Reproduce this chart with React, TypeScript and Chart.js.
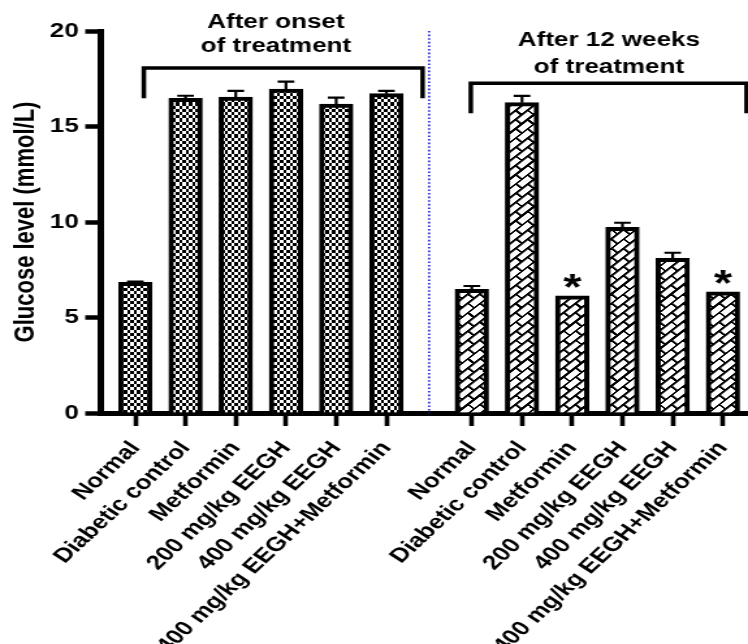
import React, { useEffect, useRef } from "react";
import { Chart, registerables } from "chart.js";

Chart.register(...registerables);

// ---------- data ----------
const categories = [
  "Normal",
  "Diabetic control",
  "Metformin",
  "200 mg/kg EEGH",
  "400 mg/kg EEGH",
  "400 mg/kg EEGH+Metformin",
];
const groupTitles = [
  ["After onset", "of treatment"],
  ["After 12 weeks", "of treatment"],
];
const onsetValues = [6.84, 16.48, 16.54, 16.96, 16.18, 16.72];
const onsetErrors = [0.04, 0.13, 0.33, 0.39, 0.33, 0.14];
const week12Values = [6.48, 16.25, 6.14, 9.72, 8.1, 6.35];
const week12Errors = [0.17, 0.35, 0, 0.24, 0.29, 0];
const week12Significant = [false, false, true, false, false, true];
const yTicks = [0, 5, 10, 15, 20];
const yTitle = "Glucose level (mmol/L)";

// ---------- layout / style config ----------
const CANVAS_W = 575;
const CANVAS_H = 644;
const STRETCH = 748 / CANVAS_W;
const GROUP_GAP = 6.7;
const X_MIN = -0.7;
const X_MAX = 12.2;
const DIVIDER_X = 5.85;
const BRACKETS = [
  { x0: 0.17, x1: 5.72, yTop: 18.06, yLeg: 16.48 },
  { x0: 6.68, x1: 12.17, yTop: 17.26, yLeg: 15.69 },
];
const TITLE_ANCHORS = [
  { x: 2.8, y: [20.47, 19.2] },
  { x: 9.43, y: [19.49, 18.09] },
];
const FONT = "'Liberation Sans', Arial, sans-serif";

const onsetPositions = categories.map((_, i) => i);
const week12Positions = categories.map((_, i) => i + GROUP_GAP);
const allPositions = [...onsetPositions, ...week12Positions];
const allLabels = [...categories, ...categories];

function makeChecker(): CanvasPattern | string {
  const t = document.createElement("canvas");
  t.width = 8;
  t.height = 8;
  const c = t.getContext("2d");
  if (!c) return "#888";
  c.fillStyle = "#fff";
  c.fillRect(0, 0, 8, 8);
  c.fillStyle = "#000";
  c.fillRect(0, 0, 4, 4);
  c.fillRect(4, 4, 4, 4);
  const ctx = document.createElement("canvas").getContext("2d")!;
  const p = ctx.createPattern(t, "repeat")!;
  p.setTransform(new DOMMatrix().scale(2.5 / 4, 3.2 / 4));
  return p;
}

function makeBricks(): CanvasPattern | string {
  const s = 2; // draw at 2x
  const L = 13 * s;
  const H = 6.5 * s;
  const t = document.createElement("canvas");
  t.width = L;
  t.height = 2 * H;
  const c = t.getContext("2d");
  if (!c) return "#888";
  c.fillStyle = "#fff";
  c.fillRect(0, 0, L, 2 * H);
  c.fillStyle = "#000";
  const m = 1.8 * s;
  c.fillRect(0, 0, L, m);
  c.fillRect(0, H, L, m);
  c.fillRect(0, 0, m, H);
  c.fillRect(L / 2, H, m, H);
  const ctx = document.createElement("canvas").getContext("2d")!;
  const p = ctx.createPattern(t, "repeat")!;
  p.setTransform(new DOMMatrix().rotate(-45).scale(1 / s));
  return p;
}

const annotationPlugin = {
  id: "annotations",
  beforeDatasetsDraw(chart: any) {
    chart.ctx.imageSmoothingEnabled = false;
  },
  afterDatasetsDraw(chart: any) {
    const ctx: CanvasRenderingContext2D = chart.ctx;
    ctx.imageSmoothingEnabled = true;
    const xs = chart.scales.x;
    const ys = chart.scales.y;
    ctx.save();

    // divider
    ctx.strokeStyle = "#2f2fd0";
    ctx.lineWidth = 1.7;
    ctx.setLineDash([1.6, 2.0]);
    ctx.beginPath();
    const dx = xs.getPixelForValue(DIVIDER_X);
    ctx.moveTo(dx, ys.getPixelForValue(20));
    ctx.lineTo(dx, ys.getPixelForValue(0));
    ctx.stroke();
    ctx.setLineDash([]);

    // error bars
    ctx.strokeStyle = "#000";
    ctx.lineWidth = 2.2;
    const drawErr = (pos: number[], vals: number[], errs: number[]) => {
      pos.forEach((p, i) => {
        if (!errs[i]) return;
        const x = xs.getPixelForValue(p);
        const y0 = ys.getPixelForValue(vals[i]);
        const y1 = ys.getPixelForValue(vals[i] + errs[i]);
        ctx.beginPath();
        ctx.moveTo(x, y0);
        ctx.lineTo(x, y1);
        ctx.moveTo(x - 6.4, y1);
        ctx.lineTo(x + 6.4, y1);
        ctx.stroke();
      });
    };
    drawErr(onsetPositions, onsetValues, onsetErrors);
    drawErr(week12Positions, week12Values, week12Errors);

    // asterisks
    ctx.fillStyle = "#000";
    ctx.font = `bold 36px ${FONT}`;
    ctx.textAlign = "center";
    ctx.textBaseline = "alphabetic";
    week12Positions.forEach((p, i) => {
      if (!week12Significant[i]) return;
      const x = xs.getPixelForValue(p);
      const y = ys.getPixelForValue(week12Values[i]);
      ctx.fillText("*", x, y + 4);
    });

    // brackets
    ctx.lineWidth = 3.5;
    ctx.lineJoin = "miter";
    ctx.lineCap = "butt";
    BRACKETS.forEach((b) => {
      const x0 = xs.getPixelForValue(b.x0);
      const x1 = xs.getPixelForValue(b.x1);
      const yt = ys.getPixelForValue(b.yTop);
      const yl = ys.getPixelForValue(b.yLeg);
      ctx.beginPath();
      ctx.moveTo(x0, yl);
      ctx.lineTo(x0, yt);
      ctx.lineTo(x1, yt);
      ctx.lineTo(x1, yl);
      ctx.stroke();
    });

    // group titles
    ctx.font = `bold 20px ${FONT}`;
    ctx.textBaseline = "middle";
    TITLE_ANCHORS.forEach((a, g) => {
      const x = xs.getPixelForValue(a.x);
      groupTitles[g].forEach((line, k) => {
        ctx.fillText(line, x, ys.getPixelForValue(a.y[k]));
      });
    });

    ctx.restore();
  },
};

export default function App() {
  const ref = useRef<HTMLCanvasElement>(null);

  useEffect(() => {
    document.body.style.margin = "0";
    if (!ref.current) return;
    const checker = makeChecker();
    const bricks = makeBricks();
    const chart = new Chart(ref.current, {
      type: "bar",
      data: {
        datasets: [
          {
            label: "After onset of treatment",
            data: onsetPositions.map((x, i) => ({ x, y: onsetValues[i] })),
            backgroundColor: checker as any,
            borderColor: "#000",
            borderWidth: 4,
            barThickness: 25.7,
            grouped: false,
          } as any,
          {
            label: "After 12 weeks of treatment",
            data: week12Positions.map((x, i) => ({ x, y: week12Values[i] })),
            backgroundColor: bricks as any,
            borderColor: "#000",
            borderWidth: 4,
            barThickness: 25.7,
            grouped: false,
          } as any,
        ],
      },
      options: {
        animation: false,
        responsive: false,
        devicePixelRatio: 1,
        layout: { padding: { top: 31, right: 0, bottom: 0, left: 0 } },
        plugins: {
          legend: { display: false },
          tooltip: { enabled: false },
          title: { display: false },
        },
        scales: {
          x: {
            type: "linear",
            min: X_MIN,
            max: X_MAX,
            offset: false,
            afterBuildTicks: (scale: any) => {
              scale.ticks = allPositions.map((v) => ({ value: v }));
            },
            afterFit: (scale: any) => {
              scale.height = CANVAS_H - 413;
              scale.paddingLeft = 0;
              scale.paddingRight = 0;
            },
            ticks: {
              autoSkip: false,
              minRotation: 50,
              maxRotation: 50,
              padding: 11,
              color: "#000",
              font: { family: FONT, size: 20, weight: "bold" },
              callback: (_v: any, i: number) => allLabels[i],
            },
            grid: {
              offset: false,
              drawOnChartArea: false,
              drawTicks: true,
              tickLength: 13,
              tickWidth: 3.6,
              tickColor: "#000",
            },
            border: { display: true, color: "#000", width: 5 },
          } as any,
          y: {
            min: 0,
            max: 20,
            afterBuildTicks: (scale: any) => {
              scale.ticks = yTicks.map((v) => ({ value: v }));
            },
            afterFit: (scale: any) => {
              scale.width = 77;
              scale.paddingTop = 0;
              scale.paddingBottom = 0;
            },
            ticks: {
              padding: 5,
              color: "#000",
              font: { family: FONT, size: 20, weight: "bold" },
            },
            grid: {
              drawOnChartArea: false,
              drawTicks: true,
              tickLength: 11.5,
              tickWidth: 4.5,
              tickColor: "#000",
            },
            border: { display: true, color: "#000", width: 5 },
            title: {
              display: true,
              text: yTitle,
              color: "#000",
              font: { family: FONT, size: 22, weight: "bold" },
              padding: { top: 7, bottom: 0 },
            },
          } as any,
        },
      },
      plugins: [annotationPlugin],
    });
    return () => chart.destroy();
  }, []);

  return (
    <canvas
      ref={ref}
      width={CANVAS_W}
      height={CANVAS_H}
      style={{ transform: `scaleX(${STRETCH})`, transformOrigin: "0 0" }}
    />
  );
}
